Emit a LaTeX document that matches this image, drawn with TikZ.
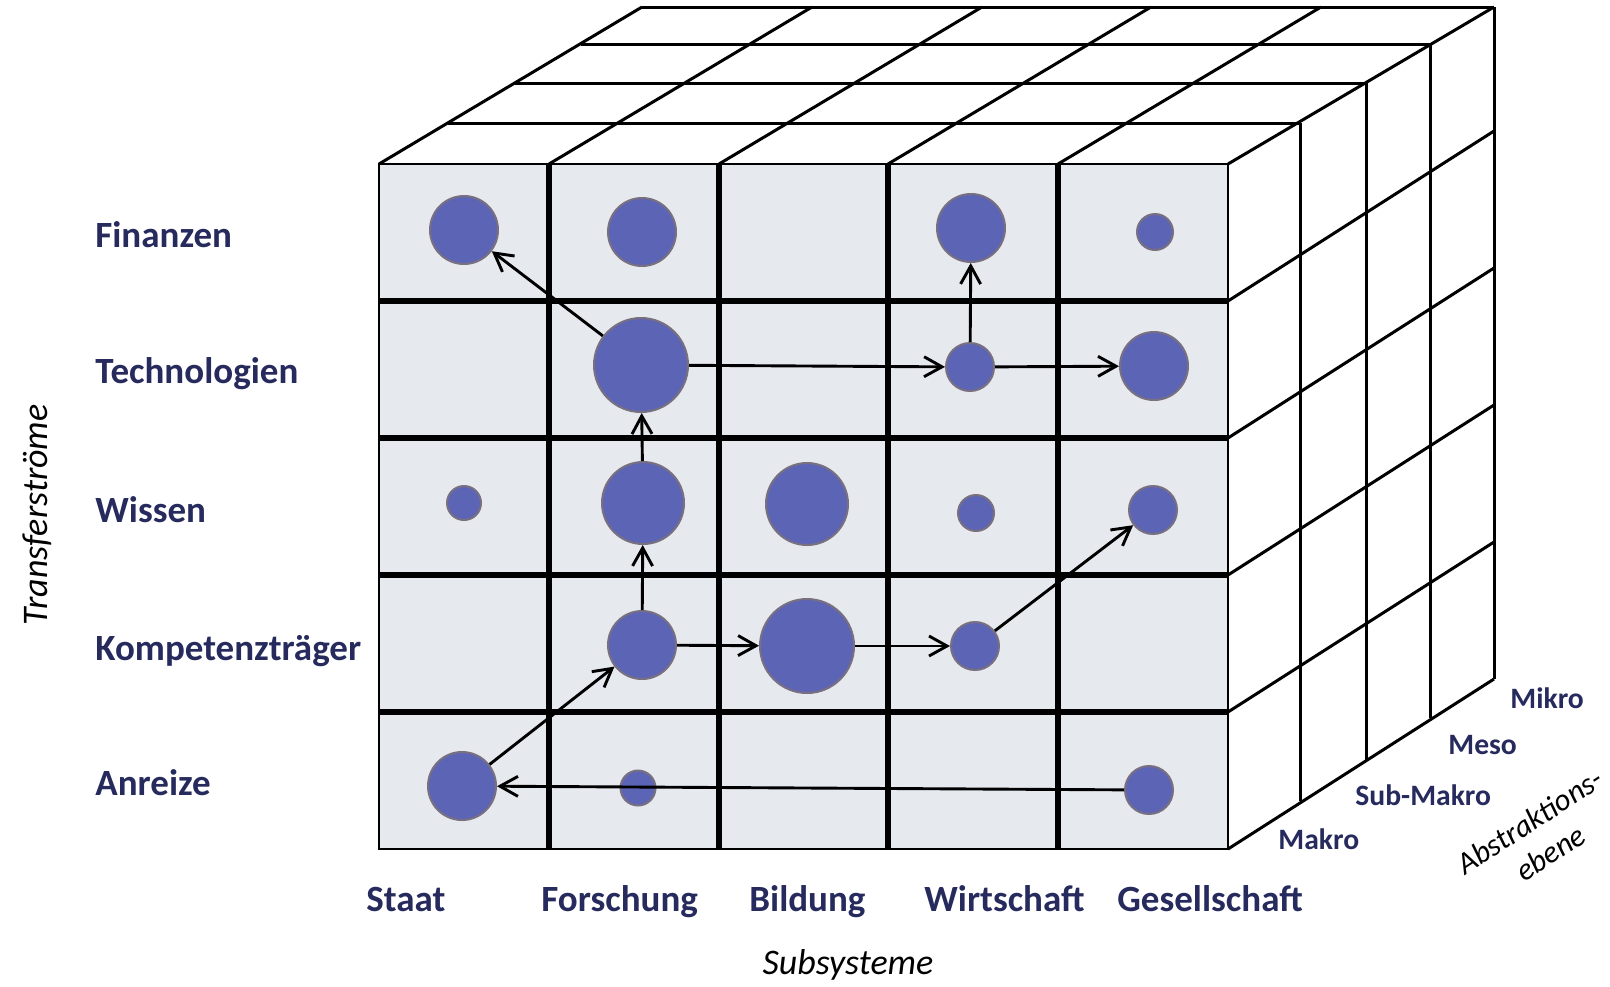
\documentclass[tikz,border=0pt]{standalone}
\usepackage{fontspec}
\setmainfont{Carlito}
\usetikzlibrary{arrows.meta,calc}
\definecolor{labelblue}{HTML}{262A5C}
\definecolor{blobfill}{HTML}{5C64B6}
\definecolor{blobline}{HTML}{787080}
\definecolor{facegray}{HTML}{E6E9EE}

\begin{document}
\begin{tikzpicture}[x=0.5pt,y=-0.5pt,
  blob/.style={circle,fill=blobfill,draw=blobline,line width=1pt,inner sep=0pt,minimum size=#1},
  flow/.style={-{Straight Barb[length=9pt,width=10pt]},line width=1.45pt},
  rowlabel/.style={font=\bfseries\fontsize{18.5pt}{22pt}\selectfont,text=labelblue,anchor=base west,inner sep=0pt},
  levellabel/.style={font=\bfseries\fontsize{14.8pt}{18pt}\selectfont,text=labelblue,anchor=base west,inner sep=0pt},
  axislabel/.style={font=\itshape\fontsize{18pt}{22pt}\selectfont,inner sep=0pt}]
  \useasboundingbox (0,0) rectangle (1610,986);

  \foreach \y/\l/\r in {123/448/1300, 83/515/1366, 44/581/1430, 7/642/1494}
    \draw[line width=1.5pt] (\l,\y) -- (\r,\y);
  \foreach \x in {379,549,719,888,1058}
    \draw[line width=1.5pt] (\x,164) -- (\x+263,7);
  \draw[line width=1.5pt] (1228,164) -- (1494,7);
  \foreach \x/\t/\b in {1300/123/801, 1366/83/761, 1430/44/718, 1494/7/679}
    \draw[line width=1.5pt] (\x,\t) -- (\x,\b);
  \foreach \y in {301,438,575,712,849}
    \draw[line width=1.5pt] (1228,\y) -- (1494,\y-170);

  \fill[facegray] (379,164) rectangle (1228,849);
  \foreach \x in {549,719,888,1058}
    \draw[line width=2.6pt] (\x,164) -- (\x,849);
  \foreach \y in {301,438,575,712}
    \draw[line width=2.6pt] (379,\y) -- (1228,\y);
  \draw[line width=1.3pt] (379,164) rectangle (1228,849);

  \node[blob=34pt] (f-sta) at (464,230) {};
  \node[blob=34pt] (f-for) at (642,232) {};
  \node[blob=34pt] (f-wir) at (971,228) {};
  \node[blob=18pt] (f-ges) at (1155,232) {};
  \node[blob=47pt] (t-for) at (641,365) {};
  \node[blob=24pt] (t-wir) at (970,367) {};
  \node[blob=34pt] (t-ges) at (1154,366) {};
  \node[blob=17pt] (w-sta) at (464,503) {};
  \node[blob=41pt] (w-for) at (643,503) {};
  \node[blob=41pt] (w-bil) at (807,504) {};
  \node[blob=18pt] (w-wir) at (976,513) {};
  \node[blob=24pt] (w-ges) at (1153,510) {};
  \node[blob=34pt] (k-for) at (642,645) {};
  \node[blob=47pt] (k-bil) at (807,646) {};
  \node[blob=24pt] (k-wir) at (975,646) {};
  \node[blob=34pt] (a-sta) at (462,786) {};
  \node[blob=17.5pt] (a-for) at (638,788) {};
  \node[blob=24pt] (a-ges) at (1149,790) {};

  \draw[flow] (t-for) -- (f-sta);
  \draw[flow] (t-for) -- (t-wir);
  \draw[flow] (t-wir) -- (f-wir);
  \draw[flow] (t-wir) -- (t-ges);
  \draw[flow] (w-for) -- (t-for);
  \draw[flow] (k-for) -- (w-for);
  \draw[flow] (k-for) -- (k-bil);
  \draw[flow] (k-bil) -- (k-wir);
  \draw[flow] (k-wir) -- (w-ges);
  \draw[flow] (a-sta) -- (k-for);
  \draw[flow] (a-ges) -- (a-sta);

  \node[rowlabel] (finanzen) at (95,247) {Finanzen};
  \node[rowlabel] (technologien) at (95,383) {Technologien};
  \node[rowlabel] (wissen) at (95,522) {Wissen};
  \node[rowlabel] (kompetenz) at (95,660) {Kompetenzträger};
  \node[rowlabel] (anreize) at (95,795) {Anreize};

  \node[rowlabel] (staat) at (366,911) {Staat};
  \node[rowlabel] (forschung) at (541,911) {Forschung};
  \node[rowlabel] (bildung) at (749,911) {Bildung};
  \node[rowlabel] (wirtschaft) at (924,911) {Wirtschaft};
  \node[rowlabel] (gesellschaft) at (1117,911) {Gesellschaft};

  \node[levellabel] (mikro) at (1510,708) {Mikro};
  \node[levellabel] (meso) at (1448,754) {Meso};
  \node[levellabel] (submakro) at (1355,805) {Sub-Makro};
  \node[levellabel] (makro) at (1278,849) {Makro};

  \node[axislabel,rotate=90,anchor=base] (transfer) at (47,515) {Transferströme};
  \node[axislabel,anchor=base] (subsysteme) at (848,974) {Subsysteme};
  \node[axislabel,font=\itshape\fontsize{15.5pt}{19pt}\selectfont,align=center,rotate=33] (abstraktion) at (1540,837) {Abstraktions-\\ebene};
\end{tikzpicture}
\end{document}
